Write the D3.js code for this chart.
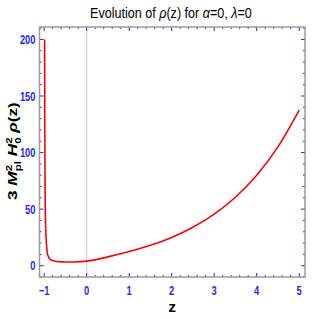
<!DOCTYPE html>
<html>
<head>
<meta charset="utf-8">
<script src="https://cdn.jsdelivr.net/npm/d3@7"></script>
<style>
  body { margin: 0; background: #fff; }
  svg { display: block; }
  .tick-label { font-family: "Liberation Sans", Arial, sans-serif; font-weight: bold; font-size: 12.5px; fill: #1f1fff; }
</style>
</head>
<body>
<svg id="chart" width="319" height="319"></svg>
<script>
// values: z and rho(z)
var zValues = [-0.99, -0.985, -0.98, -0.975, -0.97, -0.96, -0.95, -0.935, -0.92, -0.9, -0.88, -0.85, -0.8, -0.7, -0.6, -0.5, -0.3, 0, 0.5, 1, 1.5, 2, 2.5, 3, 3.5, 4, 4.5, 5];
var rhoValues = [200, 120, 78, 55, 42, 29, 21, 14, 10, 8, 6.5, 5.3, 4.5, 3.7, 3.4, 3.2, 3.3, 4, 7.8, 12.5, 18, 25, 34, 45.5, 60.5, 80, 105, 137.5];
var xTicks = [-1, 0, 1, 2, 3, 4, 5];
var yTicks = [0, 50, 100, 150, 200];

var svg = d3.select("#chart");
var pLeft = 39.5, pRight = 305, pTop = 27, pBottom = 277;

var x = d3.scaleLinear().domain([-1.11, 5.137]).range([pLeft, pRight]);
var y = d3.scaleLinear().domain([-10, 211]).range([pBottom, pTop]);

var blue = "#1f1fff";
var narrow = 0.75;

// z = 0 axis line
svg.append("line")
    .attr("x1", x(0)).attr("x2", x(0))
    .attr("y1", pTop).attr("y2", pBottom)
    .attr("stroke", "#cccccc").attr("stroke-width", 1);

// minor / major ticks on all four sides
var xMinor = d3.range(-1, 5.001, 0.2);
var yMinor = d3.range(-10, 211, 10);

xMinor.forEach(function(v){
    var major = Math.abs(v - Math.round(v)) < 1e-6;
    var len = major ? 4 : 2;
    svg.append("line").attr("x1", x(v)).attr("x2", x(v)).attr("y1", pBottom).attr("y2", pBottom - len)
        .attr("stroke", blue).attr("stroke-width", 1);
    svg.append("line").attr("x1", x(v)).attr("x2", x(v)).attr("y1", pTop).attr("y2", pTop + len)
        .attr("stroke", blue).attr("stroke-width", 1);
});
yMinor.forEach(function(v){
    var major = v % 50 == 0;
    var len = major ? 4 : 2;
    svg.append("line").attr("y1", y(v)).attr("y2", y(v)).attr("x1", pLeft).attr("x2", pLeft + len)
        .attr("stroke", blue).attr("stroke-width", 1);
    svg.append("line").attr("y1", y(v)).attr("y2", y(v)).attr("x1", pRight).attr("x2", pRight - len)
        .attr("stroke", blue).attr("stroke-width", 1);
});

// frame
svg.append("rect")
    .attr("x", pLeft).attr("y", pTop)
    .attr("width", pRight - pLeft).attr("height", pBottom - pTop)
    .attr("fill", "none").attr("stroke", "#999999").attr("stroke-width", 1.5);

// tick labels (narrow bold look)
svg.selectAll(".xl").data(xTicks).enter().append("text")
    .attr("class", "tick-label")
    .attr("transform", function(d){ return "translate(" + x(d) + "," + (pBottom + 18) + ") scale(" + narrow + ",1)"; })
    .attr("text-anchor", "middle")
    .text(function(d){ return d < 0 ? "\u2212" + Math.abs(d) : d; });

svg.selectAll(".yl").data(yTicks).enter().append("text")
    .attr("class", "tick-label")
    .attr("transform", function(d){ return "translate(" + (pLeft - 4) + "," + (y(d) + 4.5) + ") scale(" + narrow + ",1)"; })
    .attr("text-anchor", "end")
    .text(function(d){ return d; });

// curve
var pts = zValues.map(function(z, i){ return [z, rhoValues[i]]; });
var line = d3.line()
    .x(function(d){ return x(d[0]); })
    .y(function(d){ return y(d[1]); })
    .curve(d3.curveMonotoneX);

svg.append("path")
    .datum(pts)
    .attr("d", line)
    .attr("fill", "none")
    .attr("stroke", "#ff0000")
    .attr("stroke-width", 1.6);

// title, squeezed to the reference width
var titleG = svg.append("g");
var title = titleG.append("text")
    .attr("x", 0).attr("y", 0)
    .style("font-family", "'Liberation Sans', sans-serif")
    .style("font-size", "15px")
    .attr("fill", "#000");
title.append("tspan").text("Evolution of ");
title.append("tspan").style("font-style", "italic").text("\u03c1");
title.append("tspan").text("(z) for ");
title.append("tspan").style("font-style", "italic").text("\u03b1");
title.append("tspan").text("=0, ");
title.append("tspan").style("font-style", "italic").text("\u03bb");
title.append("tspan").text("=0");
var tb = title.node().getBBox();
var ts = 162 / tb.width;
titleG.attr("transform", "translate(" + (171 - tb.width * ts / 2) + ",18) scale(" + ts + ",1)");

// x label
svg.append("text")
    .attr("x", (pLeft + pRight) / 2)
    .attr("y", 312)
    .attr("text-anchor", "middle")
    .style("font-family", "'Liberation Sans', sans-serif")
    .style("font-weight", "bold")
    .style("font-size", "15px")
    .text("z");

// y label
var ylabG = svg.append("g");
var ylab = ylabG.append("text")
    .attr("x", 0).attr("y", 0)
    .style("font-family", "'Liberation Sans', sans-serif")
    .style("font-weight", "bold")
    .style("font-size", "13.5px");
ylab.append("tspan").text("3 ");
ylab.append("tspan").style("font-style", "italic").text("M");
ylab.append("tspan").attr("dy", -5).style("font-size", "9px").text("2");
ylab.append("tspan").attr("dx", -5).attr("dy", 9).style("font-size", "9px").text("pl");
ylab.append("tspan").attr("dy", -4).text(" ");
ylab.append("tspan").style("font-style", "italic").text("H");
ylab.append("tspan").attr("dy", -5).style("font-size", "9px").text("2");
ylab.append("tspan").attr("dx", -5).attr("dy", 9).style("font-size", "9px").text("0");
ylab.append("tspan").attr("dy", -4).text(" ");
ylab.append("tspan").style("font-style", "italic").text("\u03c1");
ylab.append("tspan").text("(z)");
var lb = ylab.node().getBBox();
var ls = 98 / lb.width;
ylabG.attr("transform", "translate(17,151) rotate(-90) scale(" + ls + ",1) translate(" + (-lb.width / 2) + ",0)");
</script>
</body>
</html>
